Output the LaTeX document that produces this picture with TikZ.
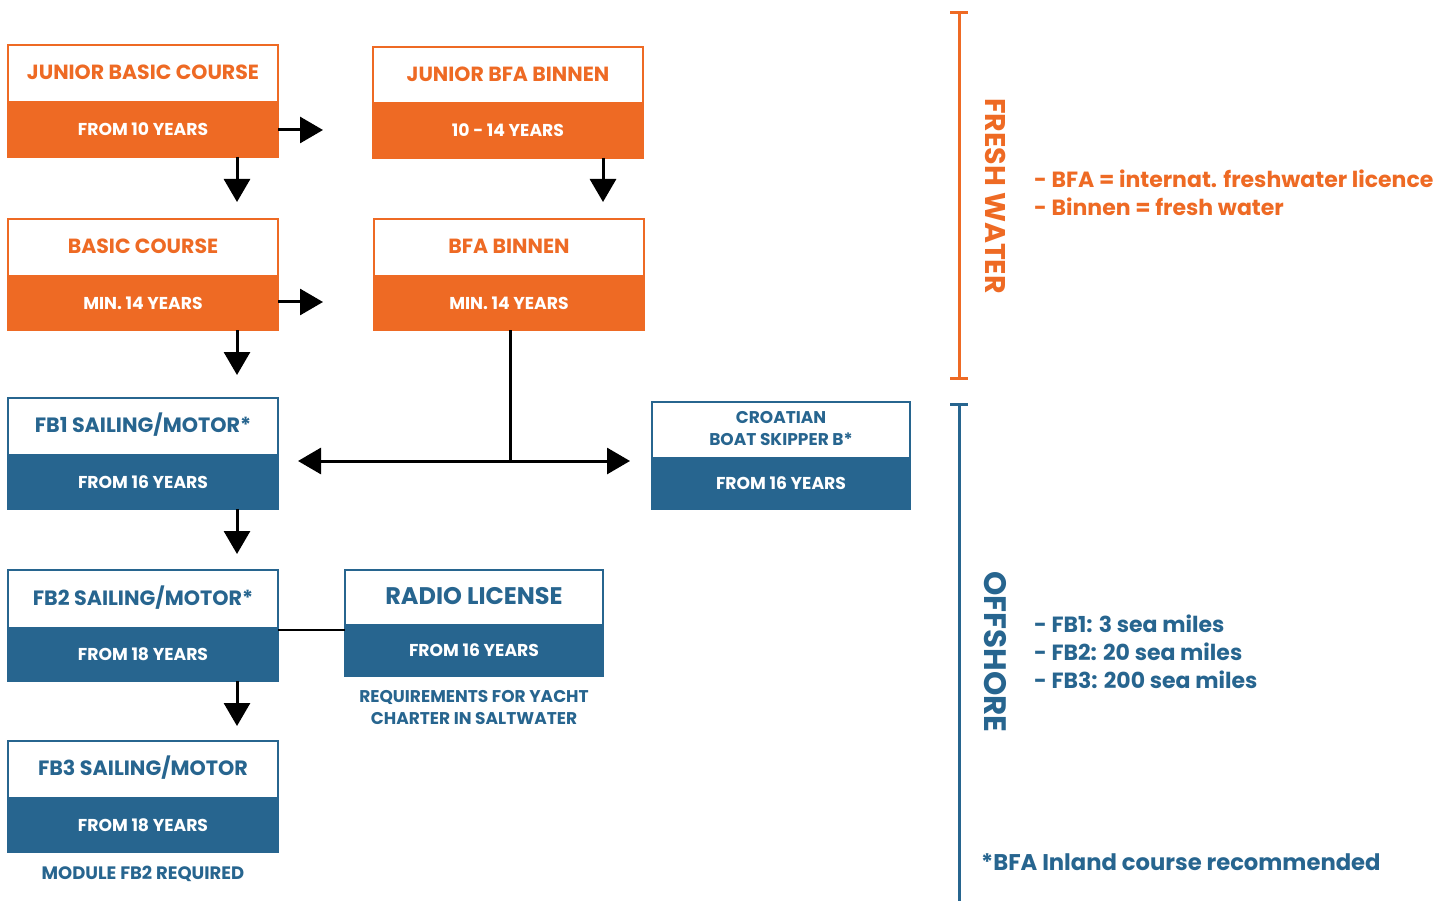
\documentclass[tikz,border=0pt]{standalone}
\usepackage{fontspec}
\setmainfont{Poppins}
\usetikzlibrary{arrows.meta}
\definecolor{orng}{HTML}{EE6A24}
\definecolor{blu}{HTML}{27658F}
\newcommand\fs[1]{\fontsize{#1}{#1}\selectfont\bfseries}
% name, x1, y1, x2, yband, y2, colour
\newcommand\coursebox[7]{%
  \node[draw=#7, line width=2pt, fill=white, anchor=north west, inner sep=0pt, outer sep=0pt,
        minimum width={(#4-#2-2)*1pt}, minimum height={(#6-#3-2)*1pt}] (#1) at ({#2+1},{#3+1}) {};
  \fill[#7] (#2,#5) rectangle (#4,#6);
  \coordinate (#1-top) at ({(#2+#4)/2},{(#3+#5)/2});
  \coordinate (#1-bot) at ({(#2+#4)/2},{(#5+#6)/2});
}
\begin{document}
\begin{tikzpicture}[x=1pt,y=-1pt,
  ttl/.style={font=\fs{#1}, text height={0.7*#1pt}, text depth=0pt, inner sep=0pt},
  arr/.style={line width=3pt, -{Triangle[length=23pt,width=26pt]}},
  conn/.style={line width=3pt},
  brk/.style={line width=3pt},
  note/.style={font=\fs{#1}, anchor=base west, inner sep=0pt}]
\useasboundingbox (0,0) rectangle (1451,901);

% boxes
\coursebox{jbc}{7}{44}{279}{101}{158}{orng}
\coursebox{jbb}{372}{46}{644}{102}{159}{orng}
\coursebox{bc}{7}{218}{279}{275}{331}{orng}
\coursebox{bb}{373}{218}{645}{275}{331}{orng}
\coursebox{fbo}{7}{397}{279}{454}{510}{blu}
\coursebox{cro}{651}{401}{911}{457}{510}{blu}
\coursebox{fbt}{7}{569}{279}{627}{682}{blu}
\coursebox{rad}{344}{569}{604}{624}{677}{blu}
\coursebox{fbh}{7}{740}{279}{797}{853}{blu}

% titles
\node[ttl=20.5, text=orng] (jbc-t) at (jbc-top) {JUNIOR BASIC COURSE};
\node[ttl=20.5, text=orng] (jbb-t) at (jbb-top) {JUNIOR BFA BINNEN};
\node[ttl=20.5, text=orng] (bc-t) at (bc-top) {BASIC COURSE};
\node[ttl=20.5, text=orng] (bb-t) at (bb-top) {BFA BINNEN};
\node[ttl=20.7, text=blu] (fbo-t) at (fbo-top) {FB1 SAILING/MOTOR*};
\node[ttl=20.7, text=blu] (fbt-t) at (fbt-top) {FB2 SAILING/MOTOR*};
\node[ttl=20.7, text=blu] (fbh-t) at (fbh-top) {FB3 SAILING/MOTOR};
\node[ttl=24, text=blu] (rad-t) at (rad-top) {RADIO LICENSE};
\node[ttl=17, text=blu] (cro-t1) at (781,418) {CROATIAN};
\node[ttl=17, text=blu] (cro-t2) at (781,440) {BOAT SKIPPER B*};

% subtitles
\foreach \b/\t in {jbc/FROM 10 YEARS, jbb/10 - 14 YEARS, bc/MIN. 14 YEARS, bb/MIN. 14 YEARS,
                   fbo/FROM 16 YEARS, cro/FROM 16 YEARS, fbt/FROM 18 YEARS, rad/FROM 16 YEARS, fbh/FROM 18 YEARS}
  \node[ttl=17.2, text=white] (\b-s) at (\b-bot) {\t};

% notes under boxes
\node[ttl=17, text=blu] (req1) at (474,697) {REQUIREMENTS FOR YACHT};
\node[ttl=17, text=blu] (req2) at (474,719) {CHARTER IN SALTWATER};
\node[ttl=18, text=blu] (mod) at (143,873) {MODULE FB2 REQUIRED};

% connectors
\coordinate (d1) at (237,202);
\draw[arr] (jbc.south -| d1) -- (d1);
\coordinate (d2) at (603,202);
\draw[arr] (jbb.south -| d2) -- (d2);
\coordinate (r1) at (323,130);
\draw[arr] (jbc.east |- r1) -- (r1);
\coordinate (r2) at (323,302);
\draw[arr] (bc.east |- r2) -- (r2);
\coordinate (d3) at (237,375);
\draw[arr] (bc.south -| d3) -- (d3);
\coordinate (d4) at (237,554);
\draw[arr] (fbo.south -| d4) -- (d4);
\coordinate (d5) at (237,726);
\draw[arr] (fbt.south -| d5) -- (d5);
\coordinate (j) at (510,461);
\coordinate (jl) at (298,461);
\coordinate (jr) at (630,461);
\draw[conn] (bb.south -| j) -- (j);
\draw[arr] (j) -- (jl);
\draw[arr] (j) -- (jr);
\coordinate (h) at (300,630);
\draw[line width=2.5pt] (fbt.east |- h) -- (rad.west |- h);

% brackets
\draw[brk, orng] (950,13) -- (968,13);
\draw[brk, orng] (959,13) -- (959,378);
\draw[brk, orng] (950,378) -- (968,378);
\draw[brk, blu] (950,404) -- (968,404);
\draw[brk, blu] (959,404) -- (959,901);

\node[ttl=28.5, text=orng, rotate=-90] (fw) at (995,196) {FRESH WATER};
\node[ttl=31, text=blu, rotate=-90] (off) at (995,652) {OFFSHORE};

% side notes
\node[note=22, text=orng] (n1) at (1034,188) {- BFA = internat. freshwater licence};
\node[note=22, text=orng] (n2) at (1034,216) {- Binnen = fresh water};
\node[note=22, text=blu] (n3) at (1034,632) {- FB1: 3 sea miles};
\node[note=22, text=blu] (n4) at (1034,660) {- FB2: 20 sea miles};
\node[note=22, text=blu] (n5) at (1034,688) {- FB3: 200 sea miles};
\node[note=22.7, text=blu] (n6) at (981,870) {*BFA Inland course recommended};
\end{tikzpicture}
\end{document}
